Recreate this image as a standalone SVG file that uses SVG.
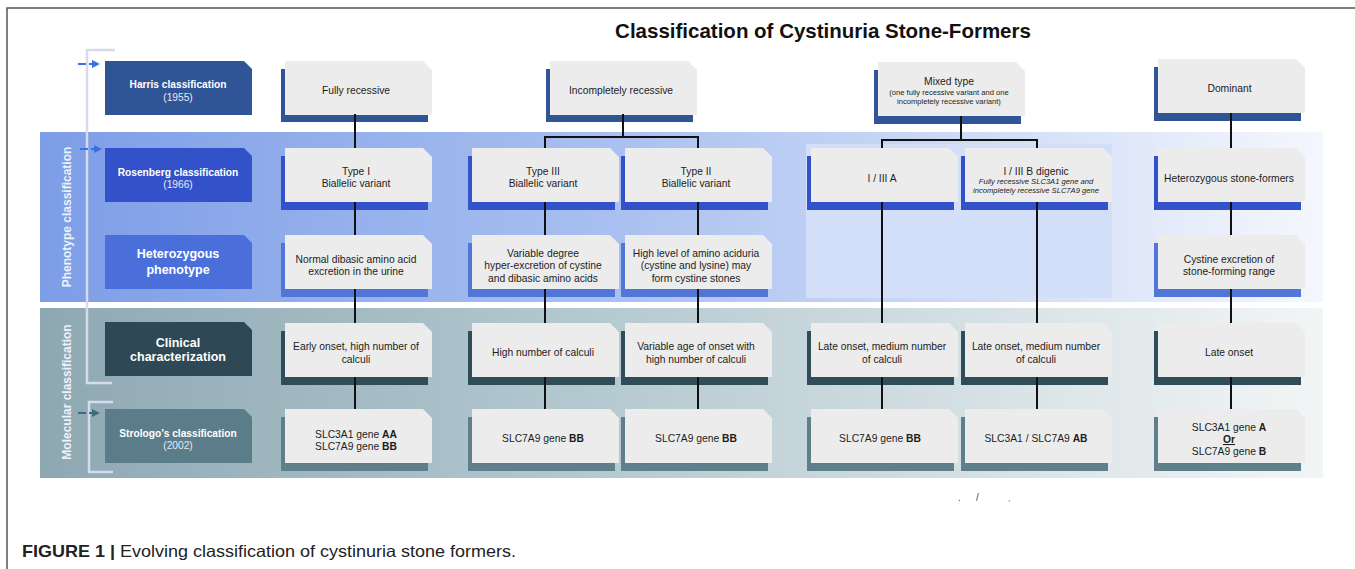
<svg xmlns="http://www.w3.org/2000/svg" width="1355" height="569" viewBox="0 0 1355 569">
<style>
.t{font-family:"Liberation Sans",Arial,sans-serif;font-size:10.3px;fill:#1c1c1c;text-anchor:middle}
.s{font-size:7.6px}
.it{font-style:italic}
.b{font-weight:bold}
.lt{font-family:"Liberation Sans",Arial,sans-serif;fill:#ffffff;text-anchor:middle}
.lb{font-size:10.2px;font-weight:bold}
.ln{font-size:10.2px;fill:#e6ebf5}
.lg{font-size:12.5px;font-weight:bold}
.side{font-family:"Liberation Sans",Arial,sans-serif;font-size:12px;font-weight:bold;fill:#eef2fb;text-anchor:middle}
.card{fill:#ececec}
.r1{fill:#2f5597}.r2{fill:#3352c9}.r3{fill:#5276d8}.r4{fill:#2f4d58}.r5{fill:#5f808b}
.con{fill:none;stroke:#111;stroke-width:2}
.brk{fill:none;stroke:#d3dbec;stroke-width:2.5}
</style>
<defs>
<linearGradient id="gPheno" x1="0" y1="0" x2="1" y2="0">
<stop offset="0" stop-color="#7d9de7"/>
<stop offset="0.45" stop-color="#a9c0f0"/>
<stop offset="0.8" stop-color="#d9e3f8"/>
<stop offset="1" stop-color="#f4f7fd"/>
</linearGradient>
<linearGradient id="gMol" x1="0" y1="0" x2="1" y2="0">
<stop offset="0" stop-color="#8ea8b2"/>
<stop offset="0.45" stop-color="#b6cad1"/>
<stop offset="0.8" stop-color="#dde6e9"/>
<stop offset="1" stop-color="#f2f5f6"/>
</linearGradient>
<path id="card" d="M0 0H138L147 9V54H0Z"/>
<path id="lbl" d="M0 0H139L147 8V54H0Z"/>
</defs>

<rect width="1355" height="569" fill="#ffffff"/>
<path d="M7 569V8H1355" fill="none" stroke="#555" stroke-width="1.5"/>

<text x="823" y="38" font-family="Liberation Sans,Arial,sans-serif" font-size="20.5" font-weight="bold" fill="#111" text-anchor="middle">Classification of Cystinuria Stone-Formers</text>

<g id="bands">
<rect x="40" y="132" width="1283" height="170" fill="url(#gPheno)"/>
<rect x="40" y="308" width="1283" height="170" fill="url(#gMol)"/>
<rect x="806" y="144" width="306" height="154" fill="#d3dff8"/>
<text class="side" transform="translate(70.5 217) rotate(-90)">Phenotype classification</text>
<text class="side" transform="translate(70.5 392) rotate(-90)">Molecular classification</text>
</g>

<g id="brackets">
<path class="brk" d="M115 50H87V383H112"/>
<path class="brk" d="M113 402H89V472H113" stroke="#d9e4e9"/>
</g>

<g id="arrows">
<path d="M78 64H86M89 64H94" stroke="#3a6ee6" stroke-width="2" fill="none"/>
<polygon points="92,60 100,64 92,68" fill="#3a6ee6"/>
<path d="M80 149H88M91 149H96" stroke="#3a6ee6" stroke-width="2" fill="none"/>
<polygon points="94,145 102,149 94,153" fill="#3a6ee6"/>
<path d="M78 413H86M89 413H94" stroke="#3f6b82" stroke-width="2" fill="none"/>
<polygon points="92,409 100,413 92,417" fill="#3f6b82"/>
</g>

<g id="label-harris"><use href="#lbl" x="105" y="61" fill="#2f5597"/>
<text class="lt lb" x="178" y="88">Harris classification</text><text class="lt ln" x="178" y="100.5">(1955)</text></g>
<g id="label-rosenberg"><use href="#lbl" x="105" y="148" fill="#3352c9"/>
<text class="lt lb" x="178" y="175.5">Rosenberg classification</text><text class="lt ln" x="178" y="188">(1966)</text></g>
<g id="label-heterozygous"><use href="#lbl" x="105" y="235" fill="#4a6fdb"/>
<text class="lt lg" x="178" y="257.5">Heterozygous</text><text class="lt lg" x="178" y="274">phenotype</text></g>
<g id="label-clinical"><use href="#lbl" x="105" y="322" fill="#2e4955"/>
<text class="lt lg" x="178" y="347">Clinical</text><text class="lt lg" x="178" y="361">characterization</text></g>
<g id="label-strologo"><use href="#lbl" x="105" y="409" fill="#5b7d89"/>
<text class="lt lb" x="178" y="436.5">Strologo’s classification</text><text class="lt ln" x="178" y="449">(2002)</text></g>

<!-- Row 1 -->
<g id="fully-recessive"><rect class="r1" x="281" y="69" width="147" height="53"/><use href="#card" class="card" x="285" y="61"/>
<text class="t" x="356" y="93.5">Fully recessive</text></g>
<g id="incompletely-recessive"><rect class="r1" x="546" y="69" width="147" height="53"/><use href="#card" class="card" x="550" y="61"/>
<text class="t" x="621" y="93.5">Incompletely recessive</text></g>
<g id="mixed-type"><rect class="r1" x="874" y="70" width="147" height="54"/><use href="#card" class="card" x="878" y="62"/>
<text class="t" x="949" y="84.7">Mixed type</text>
<text class="t s" x="949" y="95">(one fully recessive variant and one</text>
<text class="t s" x="949" y="104">incompletely recessive variant)</text></g>
<g id="dominant"><rect class="r1" x="1154" y="67" width="147" height="54"/><use href="#card" class="card" x="1158" y="59"/>
<text class="t" x="1229.5" y="91.5">Dominant</text></g>

<!-- Row 2 -->
<g id="type-i"><rect class="r2" x="281" y="156" width="147" height="54"/><use href="#card" class="card" x="285" y="148"/>
<text class="t" x="356" y="175">Type I</text><text class="t" x="356" y="187">Biallelic variant</text></g>
<g id="type-iii"><rect class="r2" x="468" y="156" width="147" height="54"/><use href="#card" class="card" x="472" y="148"/>
<text class="t" x="543" y="175">Type III</text><text class="t" x="543" y="187">Biallelic variant</text></g>
<g id="type-ii"><rect class="r2" x="621" y="156" width="147" height="54"/><use href="#card" class="card" x="625" y="148"/>
<text class="t" x="696" y="175">Type II</text><text class="t" x="696" y="187">Biallelic variant</text></g>
<g id="i-iii-a"><rect class="r2" x="807" y="156" width="147" height="54"/><use href="#card" class="card" x="811" y="148"/>
<text class="t" x="882" y="181.5">I / III A</text></g>
<g id="i-iii-b"><rect class="r2" x="961" y="156" width="147" height="54"/><use href="#card" class="card" x="965" y="148"/>
<text class="t" x="1036" y="174.5">I / III B digenic</text>
<text class="t s it" x="1036" y="184">Fully recessive SLC3A1 gene and</text>
<text class="t s it" x="1036" y="193">incompletely recessive SLC7A9 gene</text></g>
<g id="heterozygous-stone-formers"><rect class="r2" x="1154" y="156" width="147" height="54"/><use href="#card" class="card" x="1158" y="148"/>
<text class="t" x="1229" y="181.5">Heterozygous stone-formers</text></g>

<!-- Row 3 -->
<g id="normal-dibasic"><rect class="r3" x="281" y="243" width="147" height="54"/><use href="#card" class="card" x="285" y="235"/>
<text class="t" x="356" y="262.5">Normal dibasic amino acid</text><text class="t" x="356" y="275">excretion in the urine</text></g>
<g id="variable-degree"><rect class="r3" x="468" y="243" width="147" height="54"/><use href="#card" class="card" x="472" y="235"/>
<text class="t" x="543" y="256.5">Variable degree</text><text class="t" x="543" y="269">hyper-excretion of cystine</text><text class="t" x="543" y="281.5">and dibasic amino acids</text></g>
<g id="high-level"><rect class="r3" x="621" y="243" width="147" height="54"/><use href="#card" class="card" x="625" y="235"/>
<text class="t" x="696" y="256.5">High level of amino aciduria</text><text class="t" x="696" y="269">(cystine and lysine) may</text><text class="t" x="696" y="281.5">form cystine stones</text></g>
<g id="cystine-excretion"><rect class="r3" x="1154" y="243" width="147" height="54"/><use href="#card" class="card" x="1158" y="235"/>
<text class="t" x="1229" y="262.5">Cystine excretion of</text><text class="t" x="1229" y="275">stone-forming range</text></g>

<!-- Row 4 -->
<g id="early-onset"><rect class="r4" x="281" y="331" width="147" height="54"/><use href="#card" class="card" x="285" y="323"/>
<text class="t" x="356" y="350">Early onset, high number of</text><text class="t" x="356" y="362.5">calculi</text></g>
<g id="high-number"><rect class="r4" x="468" y="331" width="147" height="54"/><use href="#card" class="card" x="472" y="323"/>
<text class="t" x="543" y="356">High number of calculi</text></g>
<g id="variable-age"><rect class="r4" x="621" y="331" width="147" height="54"/><use href="#card" class="card" x="625" y="323"/>
<text class="t" x="696" y="350">Variable age of onset with</text><text class="t" x="696" y="362.5">high number of calculi</text></g>
<g id="late-onset-medium-a"><rect class="r4" x="807" y="331" width="147" height="54"/><use href="#card" class="card" x="811" y="323"/>
<text class="t" x="882" y="350">Late onset, medium number</text><text class="t" x="882" y="362.5">of calculi</text></g>
<g id="late-onset-medium-b"><rect class="r4" x="961" y="331" width="147" height="54"/><use href="#card" class="card" x="965" y="323"/>
<text class="t" x="1036" y="350">Late onset, medium number</text><text class="t" x="1036" y="362.5">of calculi</text></g>
<g id="late-onset"><rect class="r4" x="1154" y="331" width="147" height="54"/><use href="#card" class="card" x="1158" y="323"/>
<text class="t" x="1229" y="356">Late onset</text></g>

<!-- Row 5 -->
<g id="strologo-1"><rect class="r5" x="281" y="417" width="147" height="54"/><use href="#card" class="card" x="285" y="409"/>
<text class="t" x="356" y="437.5">SLC3A1 gene <tspan class="b">AA</tspan></text><text class="t" x="356" y="449.5">SLC7A9 gene <tspan class="b">BB</tspan></text></g>
<g id="strologo-2"><rect class="r5" x="468" y="417" width="147" height="54"/><use href="#card" class="card" x="472" y="409"/>
<text class="t" x="543" y="442">SLC7A9 gene <tspan class="b">BB</tspan></text></g>
<g id="strologo-3"><rect class="r5" x="621" y="417" width="147" height="54"/><use href="#card" class="card" x="625" y="409"/>
<text class="t" x="696" y="442">SLC7A9 gene <tspan class="b">BB</tspan></text></g>
<g id="strologo-4"><rect class="r5" x="807" y="417" width="147" height="54"/><use href="#card" class="card" x="811" y="409"/>
<text class="t" x="880" y="442">SLC7A9 gene <tspan class="b">BB</tspan></text></g>
<g id="strologo-5"><rect class="r5" x="961" y="417" width="147" height="54"/><use href="#card" class="card" x="965" y="409"/>
<text class="t" x="1036" y="442">SLC3A1 / SLC7A9 <tspan class="b">AB</tspan></text></g>
<g id="strologo-6"><rect class="r5" x="1154" y="417" width="147" height="54"/><use href="#card" class="card" x="1158" y="409"/>
<text class="t" x="1229" y="431">SLC3A1 gene <tspan class="b">A</tspan></text>
<text class="t b" x="1229" y="443" text-decoration="underline">Or</text>
<text class="t" x="1229" y="455">SLC7A9 gene <tspan class="b">B</tspan></text></g>

<g id="connectors">
<path class="con" d="M355 114V148M355 202V235M355 289V323M355 377V409"/>
<path class="con" d="M623 114V137M545 148V137H698V148"/>
<path class="con" d="M545 202V235M545 289V323M545 377V409"/>
<path class="con" d="M698 202V235M698 289V323M698 377V409"/>
<path class="con" d="M961 116V140M882 148V140H1037V148"/>
<path class="con" d="M882 202V323M882 377V409"/>
<path class="con" d="M1037 202V323M1037 377V409"/>
<path class="con" d="M1231 113V148M1231 202V235M1231 289V323M1231 377V409"/>
</g>

<text x="958" y="501" font-family="Liberation Sans,Arial,sans-serif" font-size="10" fill="#444">.</text>
<text x="976" y="501" font-family="Liberation Sans,Arial,sans-serif" font-size="10" fill="#444">/</text>
<text x="1008" y="501" font-family="Liberation Sans,Arial,sans-serif" font-size="8" fill="#444">,</text>

<text x="22" y="557" font-family="Liberation Sans,Arial,sans-serif" font-size="16.5" fill="#222" textLength="494" lengthAdjust="spacingAndGlyphs"><tspan font-weight="bold">FIGURE 1 |</tspan> Evolving classification of cystinuria stone formers.</text>
</svg>
